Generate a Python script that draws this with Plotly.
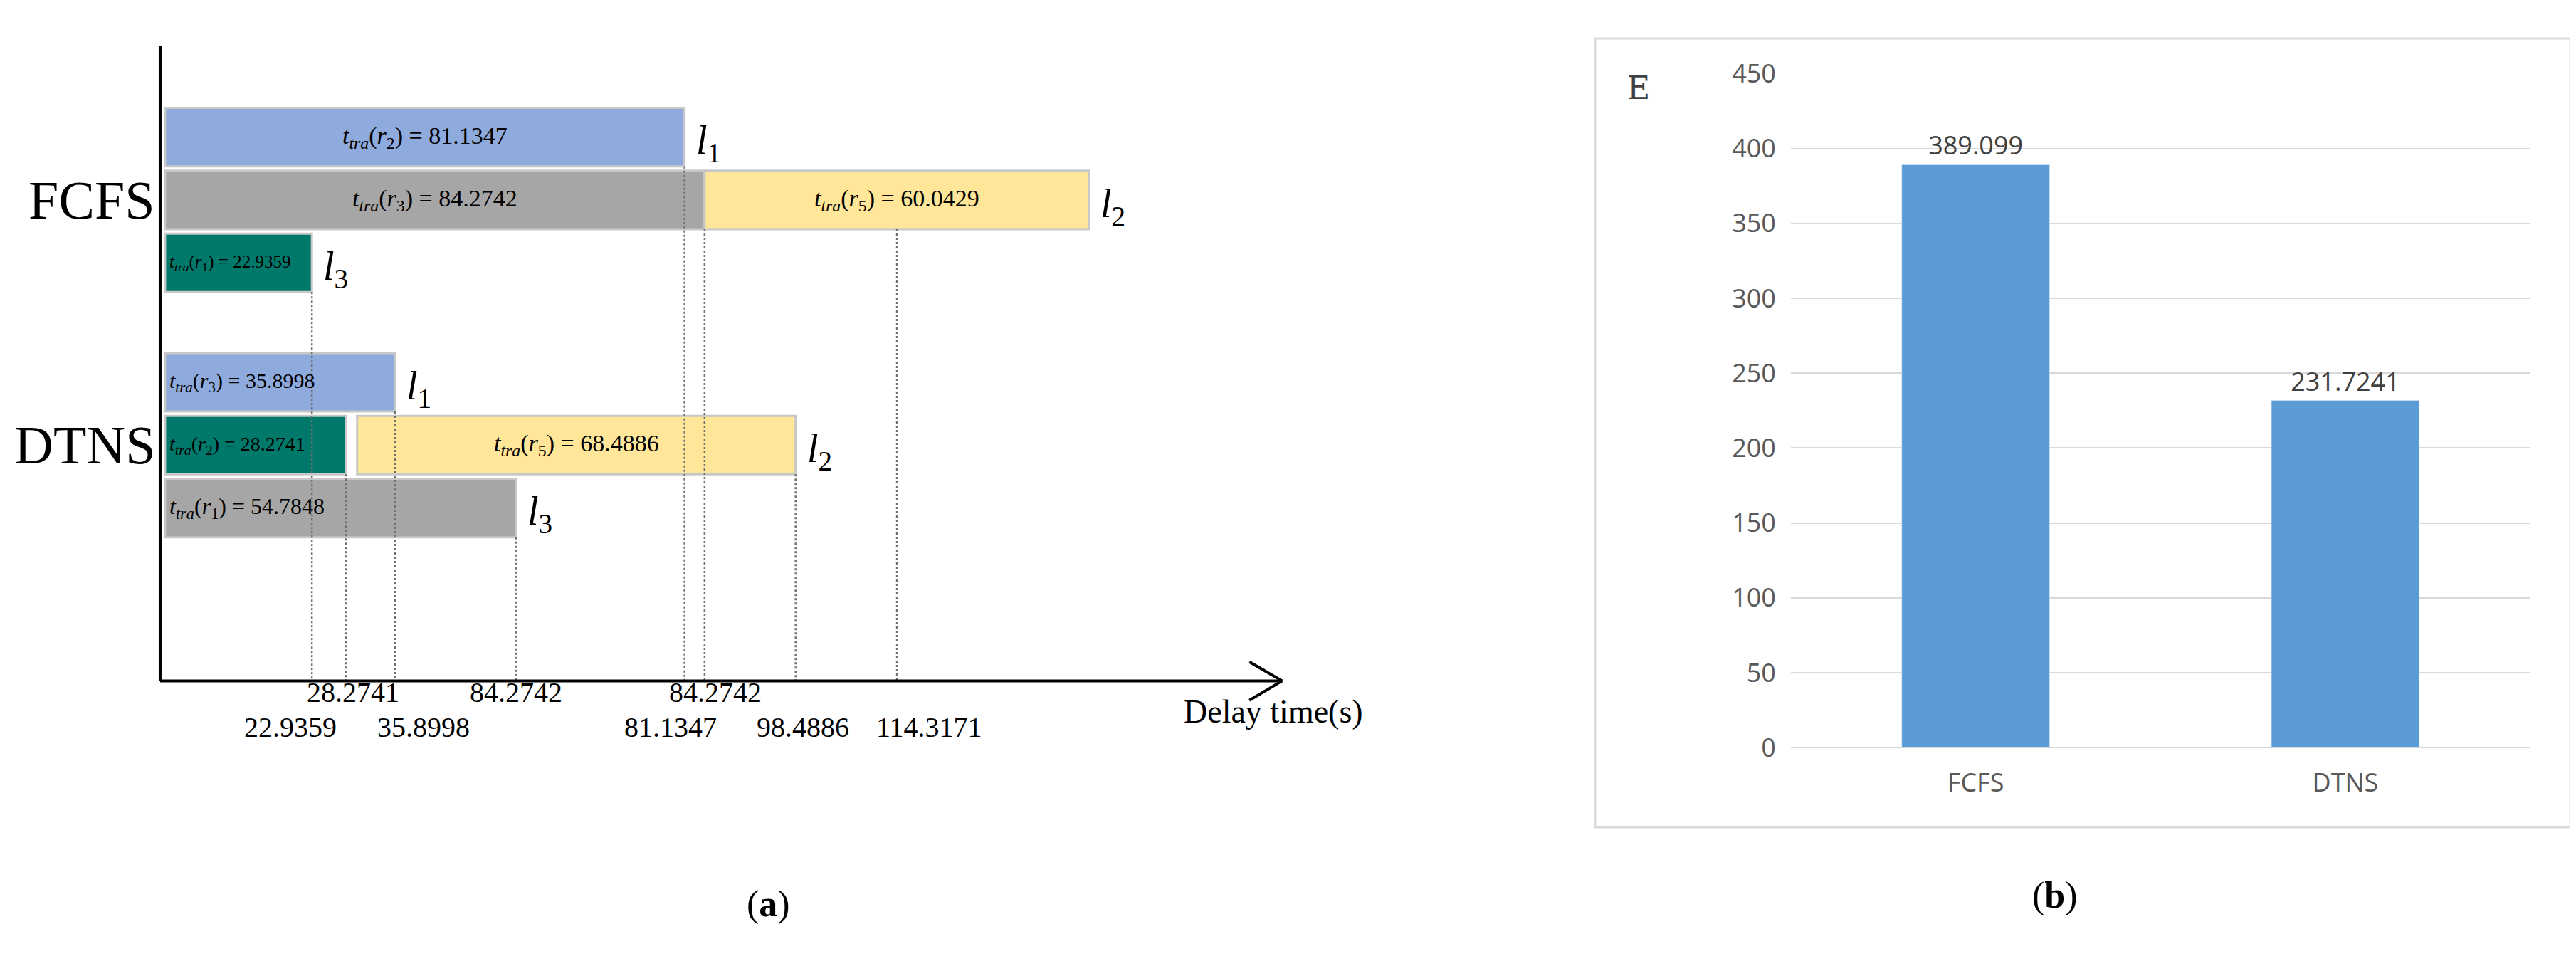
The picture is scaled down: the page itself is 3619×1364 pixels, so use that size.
import plotly.graph_objects as go

# ---------- data panel (a) ----------
rows = [0, 1, 1, 2, 3.9, 4.9, 4.9, 5.9]
bases = [0, 0, 84.2742, 0, 0, 0, 30.0, 0]
durations = [81.1347, 84.2742, 60.0429, 22.9359, 35.8998, 28.2741, 68.4886, 54.7848]
req_idx = [2, 3, 5, 1, 3, 2, 5, 1]
colors = ["#8FAADC", "#A6A6A6", "#FFE699", "#00796B", "#8FAADC", "#00796B", "#FFE699", "#A6A6A6"]
text_align = ["center", "center", "center", "left", "left", "left", "center", "left"]
text_size = [34, 34, 34, 25, 30, 28, 34, 32]
link_rows = [0, 1, 2, 3.9, 4.9, 5.9]
link_ends = [81.1347, 144.3171, 22.9359, 35.8998, 98.4886, 54.7848]
link_names = [1, 2, 3, 1, 2, 3]
drop_x = [22.9359, 81.1347, 84.2742, 114.3171, 28.2741, 35.8998, 54.7848, 98.4886]
drop_from = [2, 0, 1, 1, 4.9, 3.9, 5.9, 4.9]
tick_top_x = [28.2741, 54.7848, 84.2742]
tick_top_lbl = ["28.2741", "84.2742", "84.2742"]
tick_top_shift = [10, 0, 15]
tick_bot_x = [22.9359, 35.8998, 81.1347, 98.4886, 114.3171]
tick_bot_lbl = ["22.9359", "35.8998", "81.1347", "98.4886", "114.3171"]
tick_bot_shift = [-30, 40, -20, 10, 45]
group_names = ["FCFS", "DTNS"]
group_rows = [1, 4.9]

# ---------- data panel (b) ----------
methods = ["FCFS", "DTNS"]
energy = [389.099, 231.7241]
energy_lbl = ["389.099", "231.7241"]

SERIF = "Liberation Serif"
fig = go.Figure()

for r, b, d, c in zip(rows, bases, durations, colors):
    fig.add_trace(go.Bar(x=[d], y=[r], base=[b], orientation="h", width=0.93,
                         marker=dict(color=c, line=dict(color="#C8C8C8", width=3)),
                         xaxis="x", yaxis="y", showlegend=False, hoverinfo="skip"))

ann = []
for r, b, d, k, al, fs in zip(rows, bases, durations, req_idx, text_align, text_size):
    txt = f"<i>t</i><sub><i>tra</i></sub>(<i>r</i><sub>{k}</sub>) = {d:.4f}"
    if al == "center":
        ann.append(dict(x=b + d / 2, y=r, xref="x", yref="y", text=txt, showarrow=False,
                        xanchor="center", font=dict(family=SERIF, size=fs, color="black")))
    else:
        ann.append(dict(x=b, y=r, xref="x", yref="y", text=txt, showarrow=False, xshift=4,
                        xanchor="left", font=dict(family=SERIF, size=fs, color="black")))

for r, e, n in zip(link_rows, link_ends, link_names):
    ann.append(dict(x=e, y=r + 0.1, xref="x", yref="y", text=f"<i>l</i><sub>{n}</sub>", showarrow=False,
                    xanchor="left", xshift=14, font=dict(family=SERIF, size=56, color="black")))

for x0, r in zip(drop_x, drop_from):
    fig.add_trace(go.Scatter(x=[x0, x0], y=[r + 0.465, 8.65], mode="lines",
                             line=dict(color="#707070", width=2.5, dash="dot"),
                             xaxis="x", yaxis="y", showlegend=False, hoverinfo="skip"))

for x0, t, s in zip(tick_top_x, tick_top_lbl, tick_top_shift):
    ann.append(dict(x=x0, y=0.267, xref="x", yref="paper", text=t, showarrow=False, xshift=s,
                    font=dict(family=SERIF, size=40, color="black")))
for x0, t, s in zip(tick_bot_x, tick_bot_lbl, tick_bot_shift):
    ann.append(dict(x=x0, y=0.230, xref="x", yref="paper", text=t, showarrow=False, xshift=s,
                    font=dict(family=SERIF, size=40, color="black")))
for g, r in zip(group_names, group_rows):
    ann.append(dict(x=0.0585, y=r, xref="paper", yref="y", text=g, showarrow=False, xanchor="right",
                    font=dict(family=SERIF, size=76, color="black")))
ann.append(dict(x=0.492, y=0.244, xref="paper", yref="paper", text="Delay time(s)", showarrow=False,
                xanchor="center", font=dict(family=SERIF, size=46, color="black")))
ann.append(dict(x=0.287, y=0.036, xref="paper", yref="paper", text="(<b>a</b>)", showarrow=False,
                font=dict(family=SERIF, size=52, color="black")))

# ---------- panel (b) ----------
fig.add_trace(go.Bar(x=methods, y=energy, width=0.4, marker=dict(color="#5B9BD5"),
                     text=energy_lbl, textposition="outside",
                     textfont=dict(family="Open Sans", size=36, color="#404040"),
                     cliponaxis=False, xaxis="x2", yaxis="y2", showlegend=False, hoverinfo="skip"))
ann.append(dict(x=0.634, y=0.952, xref="paper", yref="paper", text="E", showarrow=False,
                font=dict(family="DejaVu Serif", size=44, color="#404040")))
ann.append(dict(x=0.805, y=0.045, xref="paper", yref="paper", text="(<b>b</b>)", showarrow=False,
                font=dict(family=SERIF, size=52, color="black")))

shapes = [
    dict(type="line", xref="paper", yref="paper", x0=0.05995, x1=0.05995, y0=0.2978, y1=0.976,
         line=dict(color="black", width=4)),
    dict(type="line", xref="paper", yref="paper", x0=0.05995, x1=0.4955, y0=0.2978, y1=0.2978,
         line=dict(color="black", width=4)),
    dict(type="line", xref="paper", yref="paper", x0=0.4955, x1=0.4828, y0=0.2978, y1=0.318,
         line=dict(color="black", width=4)),
    dict(type="line", xref="paper", yref="paper", x0=0.4955, x1=0.4828, y0=0.2978, y1=0.277,
         line=dict(color="black", width=4)),
    dict(type="rect", xref="paper", yref="paper", x0=0.617, x1=0.9956, y0=0.1415, y1=0.984,
         line=dict(color="#D9D9D9", width=3)),
]

fig.update_layout(
    width=3619, height=1364, margin=dict(l=0, r=0, t=0, b=0),
    paper_bgcolor="white", plot_bgcolor="white", barmode="overlay",
    annotations=ann, shapes=shapes,
    xaxis=dict(domain=[0.05995, 0.4943], range=[-0.77, 174.0], visible=False),
    yaxis=dict(domain=[0.2978, 0.976], range=[8.65, -1.45], visible=False),
    xaxis2=dict(domain=[0.693, 0.980], anchor="y2", showgrid=False, showline=False, ticks="",
                ticklabelstandoff=25,
                tickfont=dict(family="Open Sans", size=36, color="#595959")),
    yaxis2=dict(domain=[0.2265, 0.9465], anchor="x2", range=[0, 450], dtick=50,
                gridcolor="#D9D9D9", gridwidth=2, zeroline=True, zerolinecolor="#D9D9D9",
                zerolinewidth=2, showline=False, ticks="", ticklabelstandoff=20,
                tickfont=dict(family="Open Sans", size=36, color="#595959")),
)
fig.write_html("out.html")
